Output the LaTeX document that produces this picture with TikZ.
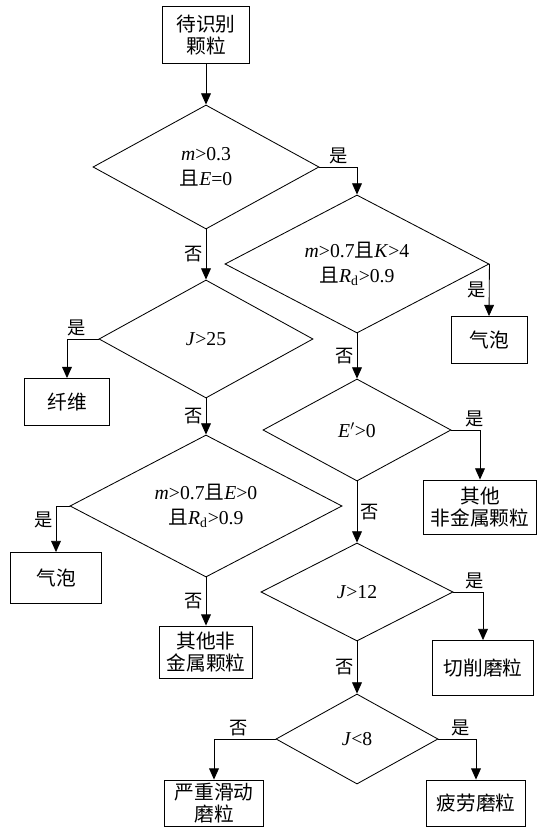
\documentclass[tikz,border=0pt]{standalone}
\usepackage{fontspec}
\setmainfont{Liberation Serif}
\newfontfamily\cjk{Noto Sans CJK SC}
\usepackage{tikz}
\usetikzlibrary{arrows.meta,shapes.geometric,positioning}

\begin{document}
\begin{tikzpicture}[x=0.025cm, y=-0.025cm, line width=0.6pt,
  decision/.style={diamond, draw, aspect=1.9, inner sep=0pt, align=center, font=\fontsize{14}{18}\selectfont},
  result/.style={rectangle, draw, inner sep=0pt, align=center, font=\cjk\fontsize{14}{16}\selectfont},
  yn/.style={font=\cjk\fontsize{13}{13}\selectfont, inner sep=2pt},
  arr/.style={-{Triangle[length=8pt,width=7pt]}}]
	\useasboundingbox (0,0) rectangle (538,827);
	
	\node[result, minimum width=2.175cm, minimum height=1.425cm] (start) at (206,35) {待识别\\颗粒};
	
	% left column
	\node[decision, minimum width=5.65cm, minimum height=3.1cm] (d1) at (206,167) {\textit{m}>0.3\\{\cjk 且}\textit{E}=0};
	\node[decision, minimum width=5.35cm, minimum height=2.95cm] (d4) at (206,339) {\textit{J}>25};
	\node[result, minimum width=2.125cm, minimum height=1.175cm] (fib) at (67,402) {纤维};
	\node[decision, minimum width=6.8cm, minimum height=3.55cm] (d5) at (206,506) {\textit{m}>0.7{\cjk 且}\textit{E}>0\\{\cjk 且}\textit{R}\textsubscript{d}>0.9};
	\node[result, minimum width=2.275cm, minimum height=1.275cm] (bub2) at (56,578) {气泡};
	\node[result, minimum width=2.325cm, minimum height=1.3cm] (oth2) at (206,652) {其他非\\金属颗粒};
	
	% right column
	\node[decision, minimum width=6.6cm, minimum height=3.45cm] (d2) at (357,264) {\textit{m}>0.7{\cjk 且}\textit{K}>4\\{\cjk 且}\textit{R}\textsubscript{d}>0.9};
	\node[result, minimum width=1.9cm, minimum height=1.175cm] (bub1) at (489,340) {气泡};
	\node[decision, minimum width=4.7cm, minimum height=2.55cm] (d3) at (357,430) {\textit{E}$'$>0};
	\node[result, minimum width=2.825cm, minimum height=1.35cm] (oth1) at (480,507) {其他\\非金属颗粒};
	\node[decision, minimum width=4.8cm, minimum height=2.45cm] (d6) at (357,592) {\textit{J}>12};
	\node[result, minimum width=2.525cm, minimum height=1.375cm] (cut) at (483,668) {切削磨粒};
	\node[decision, minimum width=4.05cm, minimum height=2.25cm] (d7) at (357,739) {\textit{J}<8};
	\node[result, minimum width=2.475cm, minimum height=1.15cm] (sev) at (214,803) {严重滑动\\磨粒};
	\node[result, minimum width=2.475cm, minimum height=1.15cm] (fat) at (476,803) {疲劳磨粒};
	
	\draw[arr] (start) -- (d1);
	\draw[arr] (d1.east) -| node[yn, pos=0.25, above] {是} (d2.north);
	\draw[arr] (d1.south) -- node[yn, left] {否} (d4.north);
	\draw[arr] (d2.east) -- node[yn, left] {是} (bub1.north);
	\draw[arr] (d2.south) -- node[yn, left] {否} (d3.north);
	\draw[arr] (d4.west) -| node[yn, pos=0.35, above] {是} (fib.north);
	\draw[arr] (d4.south) -- node[yn, left] {否} (d5.north);
	\draw[arr] (d3.east) -| node[yn, pos=0.4, above] {是} (oth1.north);
	\draw[arr] (d3.south) -- node[yn, right] {否} (d6.north);
	\draw[arr] (d5.west) -| node[yn, pos=0.65, left] {是} (bub2.north);
	\draw[arr] (d5.south) -- node[yn, left] {否} (oth2.north);
	\draw[arr] (d6.east) -| node[yn, pos=0.35, above] {是} (cut.north);
	\draw[arr] (d6.south) -- node[yn, left] {否} (d7.north);
	\draw[arr] (d7.west) -| node[yn, pos=0.3, above] {否} (sev.north);
	\draw[arr] (d7.east) -| node[yn, pos=0.3, above] {是} (fat.north);
	
\end{tikzpicture}
\end{document}
